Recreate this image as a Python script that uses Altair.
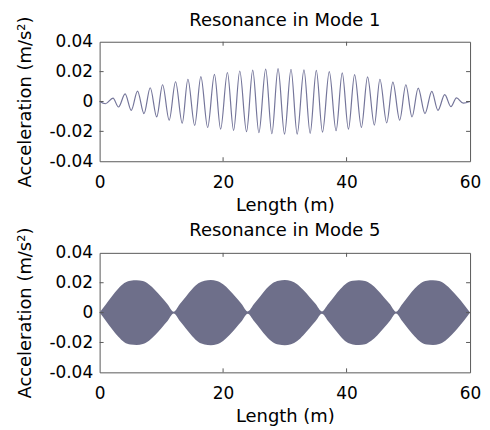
import altair as alt
import pandas as pd

# ---- Mode 1: extreme points of the oscillation ----
trough_x = [0.95, 3.06, 5.13, 7.19, 9.25, 11.27, 13.38, 15.4, 17.5, 19.6, 21.7, 23.8, 25.8, 27.9, 29.95,
            32.0, 34.1, 36.1, 38.3, 40.3, 42.4, 44.5, 46.5, 48.6, 50.6, 52.7, 54.8, 56.9, 58.9]
trough_y = [-0.0015, -0.0037, -0.0059, -0.0081, -0.0103, -0.0125, -0.0145, -0.0160, -0.0174, -0.0185,
            -0.0193, -0.0202, -0.0209, -0.0216, -0.0218,
            -0.0218, -0.0213, -0.0205, -0.0196, -0.0185, -0.0173, -0.0158, -0.0143, -0.0125, -0.0103,
            -0.0081, -0.0059, -0.0034, -0.0011]
peak_x = [2.17, 4.13, 6.14, 8.2, 10.2, 12.3, 14.3, 16.4, 18.6, 20.7, 22.7, 24.8, 26.9, 28.9,
          31.0, 33.1, 35.1, 37.2, 39.3, 41.3, 43.4, 45.4, 47.5, 49.6, 51.6, 53.8, 55.9, 57.8]
peak_y = [0.0022, 0.0051, 0.0070, 0.0092, 0.0112, 0.0132, 0.0149, 0.0167, 0.0182, 0.0194, 0.0204,
          0.0210, 0.0217, 0.0220,
          0.0216, 0.0212, 0.0208, 0.0200, 0.0191, 0.0180, 0.0165, 0.0149, 0.0129, 0.0112, 0.0090,
          0.0068, 0.0046, 0.0024]

# ---- Mode 5: envelope of the dense oscillation, read every metre ----
env_x = [0, 1, 2, 3, 4, 5, 6, 7, 8, 9, 10, 11, 12, 13, 14, 15, 16, 17, 18, 19, 20,
         21, 22, 23, 24, 25, 26, 27, 28, 29, 30, 31, 32, 33, 34, 35, 36, 37, 38, 39, 40,
         41, 42, 43, 44, 45, 46, 47, 48, 49, 50, 51, 52, 53, 54, 55, 56, 57, 58, 59, 60]
env_y = [0.0000, 0.0055, 0.0110, 0.0160, 0.0198, 0.0214, 0.0217, 0.0211, 0.0188, 0.0150, 0.0104, 0.0056,
         0.0006, 0.0057, 0.0108, 0.0158, 0.0196, 0.0213, 0.0218, 0.0212, 0.0190, 0.0152, 0.0106, 0.0058,
         0.0008, 0.0057, 0.0108, 0.0159, 0.0197, 0.0214, 0.0218, 0.0212, 0.0190, 0.0151, 0.0105, 0.0057,
         0.0008, 0.0056, 0.0108, 0.0158, 0.0197, 0.0213, 0.0217, 0.0212, 0.0189, 0.0151, 0.0105, 0.0057,
         0.0006, 0.0056, 0.0109, 0.0159, 0.0197, 0.0214, 0.0217, 0.0211, 0.0188, 0.0150, 0.0104, 0.0055,
         0.0000]

titles = ["Resonance in Mode 1", "Resonance in Mode 5"]
x_axis_values = [0, 20, 40, 60]
y_axis_values = [-0.04, -0.02, 0, 0.02, 0.04]
x_inner_ticks = [20, 40]
y_inner_ticks = [-0.02, 0, 0.02]

COLOR = "#6e6f8a"
LINE_COLOR = "#74759a"
FRAME = "#5a5a5a"
FONT = "DejaVu Sans"
W, H = 372, 120

xs, ys = [0.0], [0.0]
for i in range(len(trough_x)):
    xs.append(trough_x[i]); ys.append(trough_y[i])
    if i < len(peak_x):
        xs.append(peak_x[i]); ys.append(peak_y[i])
xs.append(60.0); ys.append(0.0)
mode1 = pd.DataFrame({"x": xs, "y": ys})
mode5 = pd.DataFrame({"x": env_x, "y": env_y, "y2": [-v for v in env_y]})

xscale = alt.Scale(domain=[0, 60], nice=False, zero=False)
yscale = alt.Scale(domain=[-0.04, 0.04], nice=False)

ylabel = "datum.value == 0 ? '0' : (datum.value < 0 ? '-' : '') + format(abs(datum.value), '.2f')"

def x_enc():
    return alt.X("x:Q", scale=xscale,
                 axis=alt.Axis(values=x_axis_values, title="Length (m)", labelPadding=13,
                               titlePadding=6, labelFlush=False))

def y_enc():
    return alt.Y("y:Q", scale=yscale,
                 axis=alt.Axis(values=y_axis_values, title="Acceleration (m/s²)", labelExpr=ylabel,
                               labelPadding=7, titlePadding=14))

def inner_ticks():
    xt = pd.DataFrame({"x": x_inner_ticks})
    yt = pd.DataFrame({"y": y_inner_ticks})
    return [
        alt.Chart(xt).mark_rule(color=FRAME).encode(x=x_enc(), y=alt.value(0), y2=alt.value(4)),
        alt.Chart(xt).mark_rule(color=FRAME).encode(x=x_enc(), y=alt.value(H - 4), y2=alt.value(H)),
        alt.Chart(yt).mark_rule(color=FRAME).encode(y=y_enc(), x=alt.value(0), x2=alt.value(4)),
        alt.Chart(yt).mark_rule(color=FRAME).encode(y=y_enc(), x=alt.value(W - 4), x2=alt.value(W)),
    ]

def title_text(t, dy):
    return alt.Chart(pd.DataFrame({"t": [t]})).mark_text(
        font=FONT, fontSize=18, color="black", align="center", baseline="alphabetic"
    ).encode(text="t:N", x=alt.value(W / 2), y=alt.value(dy))

line = alt.Chart(mode1).mark_line(color=LINE_COLOR, strokeWidth=1.2, interpolate="monotone").encode(
    x=x_enc(), y=y_enc())
area = alt.Chart(mode5).mark_area(color=COLOR, opacity=1, interpolate="monotone").encode(
    x=x_enc(), y=y_enc(), y2="y2:Q")

top = alt.layer(line, *inner_ticks(), title_text(titles[0], -16)).properties(width=W, height=H)
bottom = alt.layer(area, *inner_ticks(), title_text(titles[1], -17)).properties(width=W, height=H)

chart = alt.vconcat(top, bottom, spacing=6).properties(
    padding={"left": 8, "top": 2, "right": 0, "bottom": 0}
).configure_view(stroke=FRAME, strokeWidth=1).configure_axis(
    domain=False, ticks=False, grid=False,
    labelFont=FONT, labelFontSize=17, labelColor="black",
    titleFont=FONT, titleFontSize=18, titleFontWeight="normal", titleColor="black"
)

chart.save("out.html", embed_options={"renderer": "svg", "actions": False})
